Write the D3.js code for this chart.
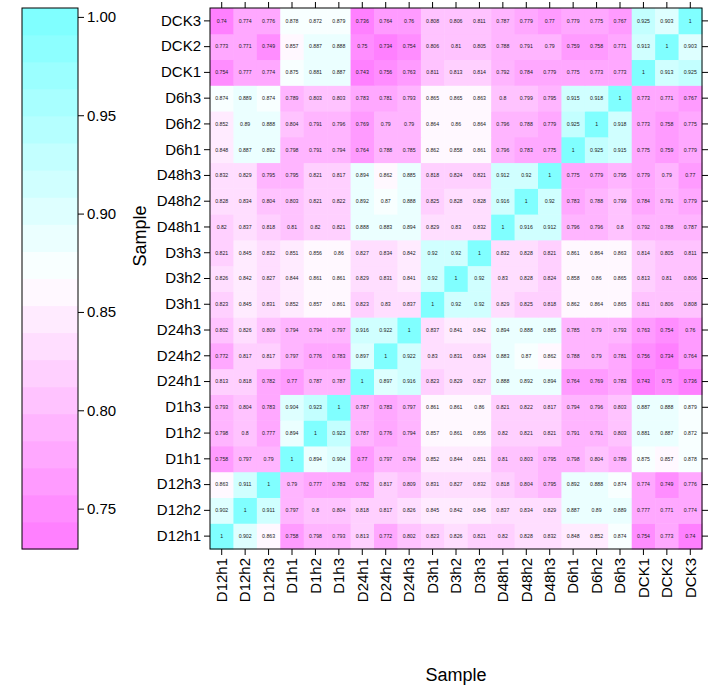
<!DOCTYPE html>
<html>
<head>
<meta charset="utf-8">
<script src="https://cdn.jsdelivr.net/npm/d3@7/dist/d3.min.js"></script>
<style>
  body { margin: 0; background: #fff; }
  text { font-family: "Liberation Sans", Arial, sans-serif; }
</style>
</head>
<body>
<div id="chart"></div>
<script>
var width = 708;
var height = 692;

const samples = ["D12h1", "D12h2", "D12h3", "D1h1", "D1h2", "D1h3", "D24h1", "D24h2", "D24h3",
    "D3h1", "D3h2", "D3h3", "D48h1", "D48h2", "D48h3", "D6h1", "D6h2", "D6h3", "DCK1", "DCK2", "DCK3"];

// one row per sample, same order as samples
const corrRows = [
    [1, 0.902, 0.863, 0.758, 0.798, 0.793, 0.813, 0.772, 0.802, 0.823, 0.826, 0.821, 0.82, 0.828, 0.832, 0.848, 0.852, 0.874, 0.754, 0.773, 0.74],
    [0.902, 1, 0.911, 0.797, 0.8, 0.804, 0.818, 0.817, 0.826, 0.845, 0.842, 0.845, 0.837, 0.834, 0.829, 0.887, 0.89, 0.889, 0.777, 0.771, 0.774],
    [0.863, 0.911, 1, 0.79, 0.777, 0.783, 0.782, 0.817, 0.809, 0.831, 0.827, 0.832, 0.818, 0.804, 0.795, 0.892, 0.888, 0.874, 0.774, 0.749, 0.776],
    [0.758, 0.797, 0.79, 1, 0.894, 0.904, 0.77, 0.797, 0.794, 0.852, 0.844, 0.851, 0.81, 0.803, 0.795, 0.798, 0.804, 0.789, 0.875, 0.857, 0.878],
    [0.798, 0.8, 0.777, 0.894, 1, 0.923, 0.787, 0.776, 0.794, 0.857, 0.861, 0.856, 0.82, 0.821, 0.821, 0.791, 0.791, 0.803, 0.881, 0.887, 0.872],
    [0.793, 0.804, 0.783, 0.904, 0.923, 1, 0.787, 0.783, 0.797, 0.861, 0.861, 0.86, 0.821, 0.822, 0.817, 0.794, 0.796, 0.803, 0.887, 0.888, 0.879],
    [0.813, 0.818, 0.782, 0.77, 0.787, 0.787, 1, 0.897, 0.916, 0.823, 0.829, 0.827, 0.888, 0.892, 0.894, 0.764, 0.769, 0.783, 0.743, 0.75, 0.736],
    [0.772, 0.817, 0.817, 0.797, 0.776, 0.783, 0.897, 1, 0.922, 0.83, 0.831, 0.834, 0.883, 0.87, 0.862, 0.788, 0.79, 0.781, 0.756, 0.734, 0.764],
    [0.802, 0.826, 0.809, 0.794, 0.794, 0.797, 0.916, 0.922, 1, 0.837, 0.841, 0.842, 0.894, 0.888, 0.885, 0.785, 0.79, 0.793, 0.763, 0.754, 0.76],
    [0.823, 0.845, 0.831, 0.852, 0.857, 0.861, 0.823, 0.83, 0.837, 1, 0.92, 0.92, 0.829, 0.825, 0.818, 0.862, 0.864, 0.865, 0.811, 0.806, 0.808],
    [0.826, 0.842, 0.827, 0.844, 0.861, 0.861, 0.829, 0.831, 0.841, 0.92, 1, 0.92, 0.83, 0.828, 0.824, 0.858, 0.86, 0.865, 0.813, 0.81, 0.806],
    [0.821, 0.845, 0.832, 0.851, 0.856, 0.86, 0.827, 0.834, 0.842, 0.92, 0.92, 1, 0.832, 0.828, 0.821, 0.861, 0.864, 0.863, 0.814, 0.805, 0.811],
    [0.82, 0.837, 0.818, 0.81, 0.82, 0.821, 0.888, 0.883, 0.894, 0.829, 0.83, 0.832, 1, 0.916, 0.912, 0.796, 0.796, 0.8, 0.792, 0.788, 0.787],
    [0.828, 0.834, 0.804, 0.803, 0.821, 0.822, 0.892, 0.87, 0.888, 0.825, 0.828, 0.828, 0.916, 1, 0.92, 0.783, 0.788, 0.799, 0.784, 0.791, 0.779],
    [0.832, 0.829, 0.795, 0.795, 0.821, 0.817, 0.894, 0.862, 0.885, 0.818, 0.824, 0.821, 0.912, 0.92, 1, 0.775, 0.779, 0.795, 0.779, 0.79, 0.77],
    [0.848, 0.887, 0.892, 0.798, 0.791, 0.794, 0.764, 0.788, 0.785, 0.862, 0.858, 0.861, 0.796, 0.783, 0.775, 1, 0.925, 0.915, 0.775, 0.759, 0.779],
    [0.852, 0.89, 0.888, 0.804, 0.791, 0.796, 0.769, 0.79, 0.79, 0.864, 0.86, 0.864, 0.796, 0.788, 0.779, 0.925, 1, 0.918, 0.773, 0.758, 0.775],
    [0.874, 0.889, 0.874, 0.789, 0.803, 0.803, 0.783, 0.781, 0.793, 0.865, 0.865, 0.863, 0.8, 0.799, 0.795, 0.915, 0.918, 1, 0.773, 0.771, 0.767],
    [0.754, 0.777, 0.774, 0.875, 0.881, 0.887, 0.743, 0.756, 0.763, 0.811, 0.813, 0.814, 0.792, 0.784, 0.779, 0.775, 0.773, 0.773, 1, 0.913, 0.925],
    [0.773, 0.771, 0.749, 0.857, 0.887, 0.888, 0.75, 0.734, 0.754, 0.806, 0.81, 0.805, 0.788, 0.791, 0.79, 0.759, 0.758, 0.771, 0.913, 1, 0.903],
    [0.74, 0.774, 0.776, 0.878, 0.872, 0.879, 0.736, 0.764, 0.76, 0.808, 0.806, 0.811, 0.787, 0.779, 0.77, 0.779, 0.775, 0.767, 0.925, 0.903, 1]
];

const keyTicks = [0.75, 0.80, 0.85, 0.90, 0.95, 1.00];
const nRegions = 20;

// flatten into cells
const cells = [];
corrRows.forEach((row, i) => row.forEach((v, j) => {
    cells.push({ x: samples[j], y: samples[i], value: v });
}));

// breaks: data range padded a little, equal intervals
const zr = d3.extent(cells, d => d.value);
const pad = (zr[1] - zr[0]) * 0.017;
const atBreaks = d3.range(nRegions + 1).map(i => zr[0] - pad + i * (zr[1] - zr[0] + 2 * pad) / nRegions);

const ramp = d3.piecewise(d3.interpolateRgb, ["#FF80FF", "#FFFFFF", "#80FFFF"]);
const regionCols = d3.range(nRegions).map(i => ramp(i / (nRegions - 1)));
const color = d3.scaleThreshold()
    .domain(atBreaks.slice(1, -1))
    .range(regionCols);

var svg = d3.select("#chart")
    .append("svg")
    .attr("width", width)
    .attr("height", height);

// ---- main panel
const panel = { left: 210, right: 702, top: 8, bottom: 549 };

const x = d3.scaleBand().domain(samples).range([panel.left, panel.right]);
const y = d3.scaleBand().domain(samples).range([panel.bottom, panel.top]);

svg.append("g")
    .selectAll("rect")
    .data(cells)
    .enter().append("rect")
    .attr("x", d => x(d.x))
    .attr("y", d => y(d.y))
    .attr("width", x.bandwidth() + 0.5)
    .attr("height", y.bandwidth() + 0.5)
    .attr("fill", d => color(d.value));

svg.append("g")
    .selectAll("text")
    .data(cells)
    .enter().append("text")
    .attr("x", d => x(d.x) + x.bandwidth() / 2)
    .attr("y", d => y(d.y) + y.bandwidth() / 2)
    .attr("dy", "0.35em")
    .attr("text-anchor", "middle")
    .attr("font-size", 5.2)
    .attr("fill", "#222")
    .text(d => String(d.value));

svg.append("rect")
    .attr("x", panel.left).attr("y", panel.top)
    .attr("width", panel.right - panel.left)
    .attr("height", panel.bottom - panel.top)
    .attr("fill", "none").attr("stroke", "#000").attr("stroke-width", 1);

// axes (ticks on all four sides, labels on left and bottom)
const axisStyle = g => {
    g.select(".domain").remove();
    g.selectAll(".tick line").attr("stroke", "#000");
    g.selectAll(".tick text").attr("font-size", 15).attr("fill", "#000")
        .style("font-family", "Liberation Sans, Arial, sans-serif");
};

svg.append("g")
    .attr("transform", `translate(${panel.left},0)`)
    .call(d3.axisLeft(y).tickSize(6).tickPadding(3))
    .call(axisStyle);

svg.append("g")
    .attr("transform", `translate(${panel.right},0)`)
    .call(d3.axisRight(y).tickSize(6).tickFormat(""))
    .call(axisStyle);

svg.append("g")
    .attr("transform", `translate(0,${panel.top})`)
    .call(d3.axisTop(x).tickSize(6).tickFormat(""))
    .call(axisStyle);

svg.append("g")
    .attr("transform", `translate(0,${panel.bottom})`)
    .call(d3.axisBottom(x).tickSize(6))
    .call(axisStyle)
    .selectAll(".tick text")
    .attr("transform", "rotate(-90)")
    .attr("text-anchor", "end")
    .attr("x", -9)
    .attr("y", 0)
    .attr("dy", "0.35em");

svg.append("text")
    .attr("x", (panel.left + panel.right) / 2)
    .attr("y", 681)
    .attr("text-anchor", "middle")
    .attr("font-size", 18)
    .text("Sample");

svg.append("text")
    .attr("transform", "translate(146,236) rotate(-90)")
    .attr("text-anchor", "middle")
    .attr("font-size", 18)
    .text("Sample");

// ---- colour key
const key = { left: 22, right: 78, top: 8, bottom: 549 };
const ky = d3.scaleLinear()
    .domain([atBreaks[0], atBreaks[atBreaks.length - 1]])
    .range([key.bottom, key.top]);

svg.append("g")
    .selectAll("rect")
    .data(d3.range(nRegions))
    .enter().append("rect")
    .attr("x", key.left)
    .attr("width", key.right - key.left)
    .attr("y", i => ky(atBreaks[i + 1]))
    .attr("height", i => ky(atBreaks[i]) - ky(atBreaks[i + 1]) + 0.5)
    .attr("fill", i => regionCols[i]);

svg.append("rect")
    .attr("x", key.left).attr("y", key.top)
    .attr("width", key.right - key.left)
    .attr("height", key.bottom - key.top)
    .attr("fill", "none").attr("stroke", "#000");

svg.append("g")
    .attr("transform", `translate(${key.right},0)`)
    .call(d3.axisRight(ky).tickValues(keyTicks).tickFormat(d3.format(".2f")).tickSize(6).tickPadding(3))
    .call(axisStyle);
</script>
</body>
</html>
